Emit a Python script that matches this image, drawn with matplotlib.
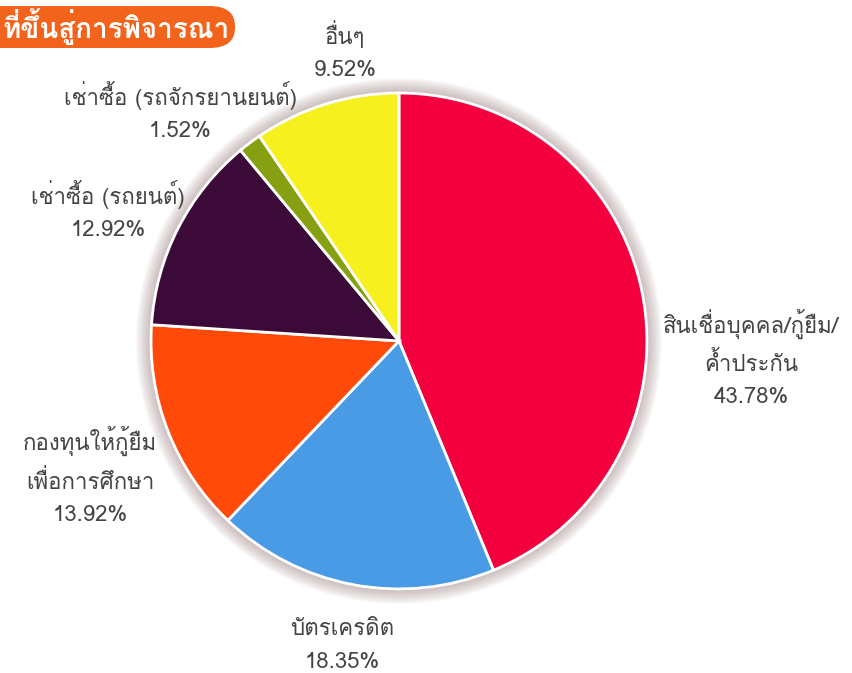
import matplotlib
matplotlib.use("Agg")
import matplotlib.pyplot as plt
from matplotlib import font_manager
from matplotlib.ft2font import FT2Font
from matplotlib.patches import Circle, FancyBboxPatch


# DATA

categories = [
    "สินเชื่อบุคคล/กู้ยืม/\nค้ำประกัน",
    "บัตรเครดิต",
    "กองทุนให้กู้ยืม\nเพื่อการศึกษา",
    "เช่าซื้อ (รถยนต์)",
    "เช่าซื้อ (รถจักรยานยนต์)",
    "อื่นๆ",
]
shares = [43.78, 18.35, 13.92, 12.92, 1.52, 9.52]
colors = ["#F5003F", "#4A9BE6", "#FF4A0A", "#3C0A38", "#86A012", "#F6F01E"]
header_text = "ที่ขึ้นสู่การพิจารณา"

# label centres, in units of the pie radius (layout only)
label_pos = [(1.42, -0.07), (-0.23, -1.23), (-1.246, -0.545),
             (-1.173, 0.525), (-0.883, 0.925), (-0.218, 1.17)]


# FONT WITH THAI GLYPHS

def find_thai_font():
    for f in font_manager.fontManager.ttflist:
        try:
            cmap = FT2Font(f.fname).get_charmap()
        except Exception:
            continue
        if 0x0E2A in cmap and 0x0E01 in cmap:
            return f.name
    return "DejaVu Sans"

thai = find_thai_font()
print("thai font:", thai)
plt.rcParams["font.family"] = [thai, "DejaVu Sans"]


# CHART

fig = plt.figure(figsize=(8.52, 6.73), dpi=100)
ax = fig.add_axes([0, 0, 1, 1])

# soft shadow round the pie
for k in range(10):
    ax.add_patch(Circle((0, 0), 1.0 + 0.006 * (10 - k), color="#8a6a6a",
                        alpha=0.05, lw=0, zorder=0))

wedges, _ = ax.pie(shares, colors=colors, startangle=90, counterclock=False,
                   radius=1.0, center=(0, 0), frame=True,
                   wedgeprops=dict(edgecolor="white", linewidth=2))
ax.set_xlim(-1.609, 1.827)
ax.set_ylim(-1.339, 1.375)
ax.set_aspect("equal")
ax.axis("off")

for name, val, (x, y) in zip(categories, shares, label_pos):
    ax.text(x, y, f"{name}\n{val:.2f}%", ha="center", va="center",
            fontsize=16, color="#444444", linespacing=1.7)

# header banner, cut at the left edge
fig.patches.append(FancyBboxPatch((-0.05, 1 - 48 / 673), 0.05 + 235 / 852, 42 / 673,
                                  boxstyle="round,pad=0,rounding_size=0.03",
                                  transform=fig.transFigure, facecolor="#F2641C",
                                  edgecolor="none", zorder=5))
fig.text(2 / 852, 1 - 27 / 673, header_text, ha="left", va="center",
         fontsize=20, color="white", fontweight="bold", zorder=6)

plt.savefig("out.png", dpi=100)
print("Saved out.png")
